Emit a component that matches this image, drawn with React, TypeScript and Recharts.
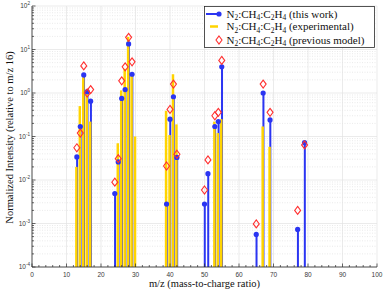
import React from 'react';
import { ComposedChart, Bar, Scatter, XAxis, YAxis, CartesianGrid, Legend, Label } from 'recharts';

// m/z channels and normalized intensities (relative to m/z 16)
const massToCharge = [13, 14, 15, 16, 17, 24, 25, 26, 27, 28, 29, 30, 39, 40, 41, 42, 50, 51, 53, 54, 55, 65, 67, 69, 77, 79];
const thisWork = [0.034, 0.17, 2.6, 1.07, 0.65, 0.0049, 0.026, 0.75, 1.2, 13.4, 2.7, null, 0.0028, 0.25, 0.82, 0.033, 0.0028, 0.014, 0.17, 0.22, 4.0, 0.00056, 1.0, 0.24, 0.00073, 0.072];
const experimental = [0.02, 0.5, 2.3, 1.0, 0.22, null, 0.07, 1.15, 3.6, 19.5, 2.5, 0.1, 0.39, 0.108, 2.7, 0.19, null, null, 0.22, 0.12, 0.25, null, 0.17, 0.058, null, null];
const previousModel = [0.055, 0.12, 4.2, 1.0, 1.2, 0.0089, 0.031, 1.9, 4.0, 19, 5.2, null, 0.021, 0.42, 1.6, 0.039, 0.0059, 0.029, 0.3, 0.36, 5.6, 0.00098, 1.6, 0.36, 0.002, 0.064];

const majorXTicks = [0, 10, 20, 30, 40, 50, 60, 70, 80, 90, 100];
const minorXStep = 2;
const majorYTicks = [1e-4, 1e-3, 1e-2, 1e-1, 1, 10, 100];
const minorYMultipliers = [2, 3, 4, 5, 6, 7, 8, 9];

const BLUE = '#2b35f2';
const YELLOW = '#ffd400';
const RED = '#ff3030';
const AXIS = '#2a2a2a';
const TICK_TEXT = '#3a3a3a';
const SERIF = '"Liberation Serif", "DejaVu Serif", serif';
const SANS = '"Liberation Sans", Arial, sans-serif';

const data = massToCharge.map((mz, i) => ({
  mz,
  model: thisWork[i],
  exp: experimental[i],
  prev: previousModel[i],
}));

const xTicks: number[] = [];
for (let v = 0; v <= 100; v += minorXStep) xTicks.push(v);
const minorYTicks = majorYTicks.slice(0, -1).flatMap((d) => minorYMultipliers.map((m) => m * d));
const yTicks = [...majorYTicks, ...minorYTicks].sort((a, b) => a - b);

const isMajorY = (v: number) => Math.abs(Math.log10(v) - Math.round(Math.log10(v))) < 1e-6;

const StemShape = (props: any) => {
  const { x, y, width, height, fill } = props;
  if (![x, y, width, height].every(Number.isFinite) || height <= 0) return null;
  return <rect x={x} y={y} width={width} height={height} fill={fill} />;
};

const DotShape = (props: any) => {
  const { cx, cy } = props;
  if (!Number.isFinite(cx) || !Number.isFinite(cy)) return null;
  return <circle cx={cx} cy={cy} r={2.6} fill={BLUE} />;
};

const DiamondShape = (props: any) => {
  const { cx, cy } = props;
  if (!Number.isFinite(cx) || !Number.isFinite(cy)) return null;
  return (
    <polygon
      points={`${cx},${cy - 4} ${cx + 3},${cy} ${cx},${cy + 4} ${cx - 3},${cy}`}
      fill="none"
      stroke={RED}
      strokeWidth={1.1}
    />
  );
};

// ticks point inwards, like the original figure
const BottomTick = (props: any) => {
  const { x, y, payload } = props;
  const major = payload.value % 10 === 0;
  const axisY = y - 8;
  return (
    <g>
      <line x1={x} y1={axisY} x2={x} y2={axisY - (major ? 3.5 : 2)} stroke={AXIS} strokeWidth={0.7} />
      {major && (
        <text x={x} y={y + 2.3} textAnchor="middle" fontSize={6.5} fontFamily={SANS} fill={TICK_TEXT}>
          {payload.value}
        </text>
      )}
    </g>
  );
};

const TopTick = (props: any) => {
  const { x, y, payload } = props;
  const major = payload.value % 10 === 0;
  return <line x1={x} y1={y} x2={x} y2={y + (major ? 3.5 : 2)} stroke={AXIS} strokeWidth={0.7} />;
};

const LeftTick = (props: any) => {
  const { x, y, payload } = props;
  const major = isMajorY(payload.value);
  const axisX = x + 2;
  const exp = Math.round(Math.log10(payload.value));
  return (
    <g>
      <line x1={axisX} y1={y} x2={axisX + (major ? 3.5 : 2)} y2={y} stroke={AXIS} strokeWidth={0.7} />
      {major && (
        <text x={x} y={y + 2.3} textAnchor="end" fontSize={6.5} fontFamily={SANS} fill={TICK_TEXT}>
          10<tspan dy={-3} fontSize={4.6}>{exp}</tspan>
        </text>
      )}
    </g>
  );
};

const RightTick = (props: any) => {
  const { x, y, payload } = props;
  const major = isMajorY(payload.value);
  return <line x1={x} y1={y} x2={x - (major ? 3.5 : 2)} y2={y} stroke={AXIS} strokeWidth={0.7} />;
};

const Formula = ({ x, y, note }: { x: number; y: number; note: string }) => (
  <text x={x} y={y} fontFamily={SERIF} fontSize={11} fill="#111" style={{ whiteSpace: 'pre' }}>
    N<tspan dy={2.6} fontSize={7.5}>2</tspan>
    <tspan dy={-2.6}>:CH</tspan>
    <tspan dy={2.6} fontSize={7.5}>4</tspan>
    <tspan dy={-2.6}>:C</tspan>
    <tspan dy={2.6} fontSize={7.5}>2</tspan>
    <tspan dy={-2.6}>H</tspan>
    <tspan dy={2.6} fontSize={7.5}>4</tspan>
    <tspan dy={-2.6}>{' ' + note}</tspan>
  </text>
);

const LegendBox = () => (
  <svg width={171} height={42} style={{ display: 'block' }}>
    <rect x={0.5} y={0.5} width={170} height={41} fill="#fff" stroke={AXIS} strokeWidth={0.8} />
    <line x1={2} y1={8} x2={15} y2={8} stroke={BLUE} strokeWidth={2} />
    <circle cx={15} cy={8} r={2.6} fill={BLUE} />
    <line x1={6} y1={20.5} x2={14} y2={20.5} stroke={YELLOW} strokeWidth={2.5} />
    <polygon points="15,30 18,34 15,38 12,34" fill="none" stroke={RED} strokeWidth={1.1} />
    <Formula x={22.5} y={11.5} note="(this work)" />
    <Formula x={22.5} y={24} note="(experimental)" />
    <Formula x={22.5} y={37.5} note="(previous model)" />
  </svg>
);

const App = () => {
  return (
    <div style={{ position: 'absolute', left: 0, top: 0, width: 384, height: 295, background: '#fff' }}>
      <ComposedChart width={384} height={295} data={data} margin={{ top: 6, right: 7, bottom: 0, left: 0 }}>
        <CartesianGrid
          xAxisId="main"
          yAxisId="left"
          horizontalValues={minorYTicks}
          vertical={false}
          stroke="#dcdcdc"
          strokeDasharray="1 1.5"
          strokeWidth={0.6}
        />
        <CartesianGrid
          xAxisId="main"
          yAxisId="left"
          horizontalValues={majorYTicks}
          verticalValues={majorXTicks}
          stroke="#e2e2e2"
          strokeWidth={0.7}
        />
        <XAxis
          xAxisId="main"
          dataKey="mz"
          type="number"
          domain={[0, 100]}
          allowDataOverflow
          ticks={xTicks}
          interval={0}
          height={28}
          tickSize={0}
          tickMargin={8}
          tick={<BottomTick />}
          axisLine={{ stroke: AXIS, strokeWidth: 0.8 }}
        >
          <Label
            content={(p: any) => {
              const vb = p.viewBox;
              return (
                <text x={vb.x + vb.width / 2} y={vb.y + 19.5} textAnchor="middle" fontFamily={SERIF} fontSize={10.5} fill="#111">
                  m/z (mass-to-charge ratio)
                </text>
              );
            }}
          />
        </XAxis>
        <XAxis
          xAxisId="top"
          orientation="top"
          dataKey="mz"
          type="number"
          domain={[0, 100]}
          allowDataOverflow
          ticks={xTicks}
          interval={0}
          height={0}
          tickSize={0}
          tickMargin={0}
          tick={<TopTick />}
          axisLine={{ stroke: AXIS, strokeWidth: 0.8 }}
        />
        <YAxis
          yAxisId="left"
          scale="log"
          type="number"
          domain={[1e-4, 100]}
          allowDataOverflow
          ticks={yTicks}
          interval={0}
          width={32}
          tickSize={0}
          tickMargin={2}
          tick={<LeftTick />}
          axisLine={{ stroke: AXIS, strokeWidth: 0.8 }}
        >
          <Label
            content={(p: any) => {
              const vb = p.viewBox;
              const cx = vb.x + 13;
              const cy = vb.y + vb.height / 2 + 1;
              return (
                <text
                  x={cx}
                  y={cy}
                  transform={`rotate(-90 ${cx} ${cy})`}
                  textAnchor="middle"
                  fontFamily={SERIF}
                  fontSize={10.5}
                  fill="#111"
                >
                  Normalized Intensity (relative to m/z 16)
                </text>
              );
            }}
          />
        </YAxis>
        <YAxis
          yAxisId="right"
          orientation="right"
          scale="log"
          type="number"
          domain={[1e-4, 100]}
          allowDataOverflow
          ticks={yTicks}
          interval={0}
          width={0}
          tickSize={0}
          tickMargin={0}
          tick={<RightTick />}
          axisLine={{ stroke: AXIS, strokeWidth: 0.8 }}
        />
        <Bar
          xAxisId="main"
          yAxisId="left"
          dataKey="model"
          barSize={2}
          fill={BLUE}
          shape={<StemShape />}
          isAnimationActive={false}
        />
        <Bar
          xAxisId="top"
          yAxisId="left"
          dataKey="exp"
          barSize={2.5}
          fill={YELLOW}
          shape={<StemShape />}
          isAnimationActive={false}
        />
        <Scatter xAxisId="main" yAxisId="left" dataKey="model" shape={<DotShape />} isAnimationActive={false} />
        <Scatter xAxisId="main" yAxisId="right" dataKey="prev" shape={<DiamondShape />} isAnimationActive={false} />
        <Legend
          layout="vertical"
          align="center"
          verticalAlign="middle"
          wrapperStyle={{ left: 204, top: 6, width: 171, height: 42 }}
          content={() => <LegendBox />}
        />
      </ComposedChart>
    </div>
  );
};

export default App;
